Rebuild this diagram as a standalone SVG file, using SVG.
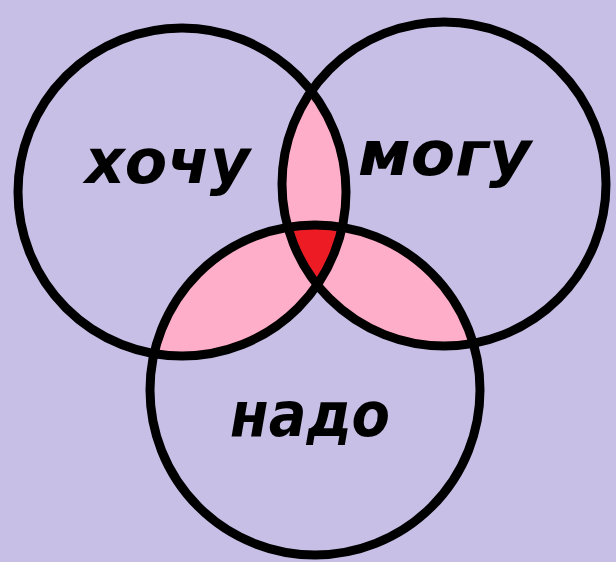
<svg xmlns="http://www.w3.org/2000/svg" width="616" height="562" viewBox="0 0 616 562">
<style>
.ring{fill:none;stroke:#000;stroke-width:9}
.pink{fill:#ffaec9}
.red{fill:#ed1c24}
.lbl{font-family:"DejaVu Sans","Noto Sans",sans-serif;font-weight:bold;font-style:italic;font-size:62px;fill:#000}
</style>
<defs>
<clipPath id="cL"><circle cx="182" cy="192" r="164"/></clipPath>
<clipPath id="cR"><circle cx="444" cy="184" r="162"/></clipPath>
</defs>
<rect width="616" height="562" fill="#c8bfe7"/>
<g id="overlaps">
<g clip-path="url(#cL)">
<circle class="pink" cx="444" cy="184" r="162"/>
<circle class="pink" cx="315" cy="390" r="165"/>
</g>
<g clip-path="url(#cR)">
<circle class="pink" cx="315" cy="390" r="165"/>
</g>
<g clip-path="url(#cL)"><g clip-path="url(#cR)">
<circle class="red" cx="315" cy="390" r="165"/>
</g></g>
</g>
<g id="want">
<circle class="ring" cx="182" cy="192" r="164"/>
<text class="lbl" x="85" y="183" textLength="165" lengthAdjust="spacingAndGlyphs">хочу</text>
</g>
<g id="can">
<circle class="ring" cx="444" cy="184" r="162"/>
<text class="lbl" x="358" y="175" textLength="173" lengthAdjust="spacingAndGlyphs">могу</text>
</g>
<g id="need">
<circle class="ring" cx="315" cy="390" r="165"/>
<text class="lbl" x="230" y="436" textLength="160" lengthAdjust="spacingAndGlyphs">надо</text>
</g>
</svg>
